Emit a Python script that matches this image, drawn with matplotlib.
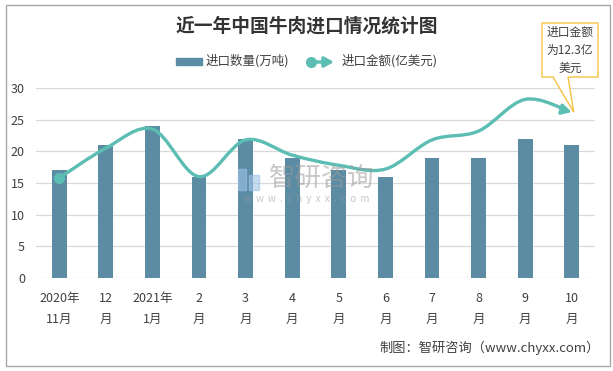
import numpy as np
import matplotlib.pyplot as plt
from matplotlib.path import Path
from matplotlib.patches import FancyArrowPatch, Rectangle, Polygon
from matplotlib.lines import Line2D

plt.rcParams['font.family'] = ['Noto Sans CJK SC', 'DejaVu Sans']

months = ["2020年\n11月", "12\n月", "2021年\n1月", "2\n月", "3\n月", "4\n月",
          "5\n月", "6\n月", "7\n月", "8\n月", "9\n月", "10\n月"]
volume = [17, 21, 24, 16, 22, 19, 17, 16, 19, 19, 22, 21]          # 进口数量(万吨)
amount = [15.8, 20.5, 23.5, 16.0, 21.8, 19.4, 17.8, 17.2, 21.8, 23.2, 28.2, 26.2]  # 进口金额
note = "进口金额\n为12.3亿\n美元"

bar_color = "#5b8ca4"
line_color = "#5cbdb3"
text_color = "#404040"
W, H = 613, 371
arrow_style = '-|>,head_length=0.55,head_width=0.3'

fig = plt.figure(figsize=(W / 100, H / 100), dpi=100)
ax = fig.add_axes([36 / W, 1 - 278 / H, 559 / W, 190 / H])

x = np.arange(len(months))
ax.bar(x, volume, width=0.32, color=bar_color, zorder=2)

# smooth line (catmull-rom -> bezier), like excel's smoothed line
pts = np.column_stack([x, amount]).astype(float)
ext = np.vstack([pts[0], pts, pts[-1]])
verts = [tuple(pts[0])]
codes = [Path.MOVETO]
for i in range(len(pts) - 1):
    p0, p1, p2, p3 = ext[i], ext[i + 1], ext[i + 2], ext[i + 3]
    c1 = p1 + (p2 - p0) / 6
    c2 = p2 - (p3 - p1) / 6
    verts += [tuple(c1), tuple(c2), tuple(p2)]
    codes += [Path.CURVE4] * 3
curve = FancyArrowPatch(path=Path(verts, codes), arrowstyle=arrow_style,
                        mutation_scale=10, color=line_color, lw=2.4, transform=ax.transData, zorder=3)
ax.add_patch(curve)
ax.plot(x[0], amount[0], 'o', color=line_color, ms=7, zorder=4)

ax.set_xlim(-0.5, len(months) - 0.5)
ax.set_ylim(0, 30)
ax.set_yticks(range(0, 31, 5))
ax.set_xticks(x)
ax.set_xticklabels(months, linespacing=1.85)
ax.tick_params(axis='both', length=0, labelsize=9, colors=text_color)
ax.tick_params(axis='x', pad=10)
ax.tick_params(axis='y', pad=8)
ax.grid(axis='y', color='#d9d9d9', lw=0.9, zorder=0)
for s in ax.spines.values():
    s.set_visible(False)

# title
fig.text(0.5, 1 - 26 / H, "近一年中国牛肉进口情况统计图", ha='center', va='center',
         fontsize=13.5, fontweight='bold', color='#333333')

# legend
fig.patches.append(Rectangle((176 / W, 1 - 65 / H), 26 / W, 7 / H, transform=fig.transFigure,
                             color=bar_color))
fig.text(206 / W, 1 - 61 / H, "进口数量(万吨)", va='center', fontsize=9, color=text_color)
fig.patches.append(FancyArrowPatch((311 / W, 1 - 62 / H), (334 / W, 1 - 62 / H),
                                   transform=fig.transFigure, arrowstyle=arrow_style,
                                   mutation_scale=10, color=line_color, lw=2.4, shrinkA=0, shrinkB=0))
fig.lines.append(Line2D([311 / W], [1 - 62 / H], transform=fig.transFigure, marker='o',
                        ms=7, color=line_color))
fig.text(342 / W, 1 - 61 / H, "进口金额(亿美元)", va='center', fontsize=9, color=text_color)

# callout
tip = ax.transData.transform((x[-1], amount[-1]))
tip = fig.transFigure.inverted().transform(tip)
bx0, bx1, by0, by1 = 542, 598, 23, 77
poly = [(bx0 / W, 1 - by0 / H), (bx1 / W, 1 - by0 / H), (bx1 / W, 1 - by1 / H),
        (568 / W, 1 - by1 / H), (tip[0] + 2 / W, tip[1]), (553 / W, 1 - by1 / H), (bx0 / W, 1 - by1 / H)]
fig.patches.append(Polygon(poly, closed=True, transform=fig.transFigure, facecolor='white',
                           edgecolor='#f5c242', lw=1, zorder=5))
fig.text((bx0 + bx1) / 2 / W, 1 - (by0 + by1) / 2 / H, note, ha='center', va='center',
         fontsize=8.5, color=text_color, linespacing=1.5, zorder=6)

# watermark
fig.patches.append(Rectangle((238 / W, 1 - 190 / H), 8 / W, 21 / H, transform=fig.transFigure,
                             color='#9ec3e6', alpha=0.6))
fig.patches.append(Rectangle((249 / W, 1 - 190 / H), 10 / W, 15 / H, transform=fig.transFigure,
                             color='#9ec3e6', alpha=0.6))
fig.text(322 / W, 1 - 178 / H, "智研咨询", ha='center', va='center', fontsize=19,
         color='#999999', alpha=0.55)
fig.text(307 / W, 1 - 199 / H, "w  w  w  .  c  h  y  x  x  .  c  o  m", ha='center', va='center',
         fontsize=7, color='#999999', alpha=0.55)

# footer
fig.text(600 / W, 1 - 348 / H, "制图：智研咨询（www.chyxx.com）", ha='right', va='center',
         fontsize=9.5, color=text_color)

# frame
fig.patches.append(Rectangle((6 / W, 1 - 366 / H), 604 / W, 361 / H, transform=fig.transFigure,
                             fill=False, edgecolor='#a6a6a6', lw=1))

fig.savefig("out.png", dpi=100, facecolor='white')
